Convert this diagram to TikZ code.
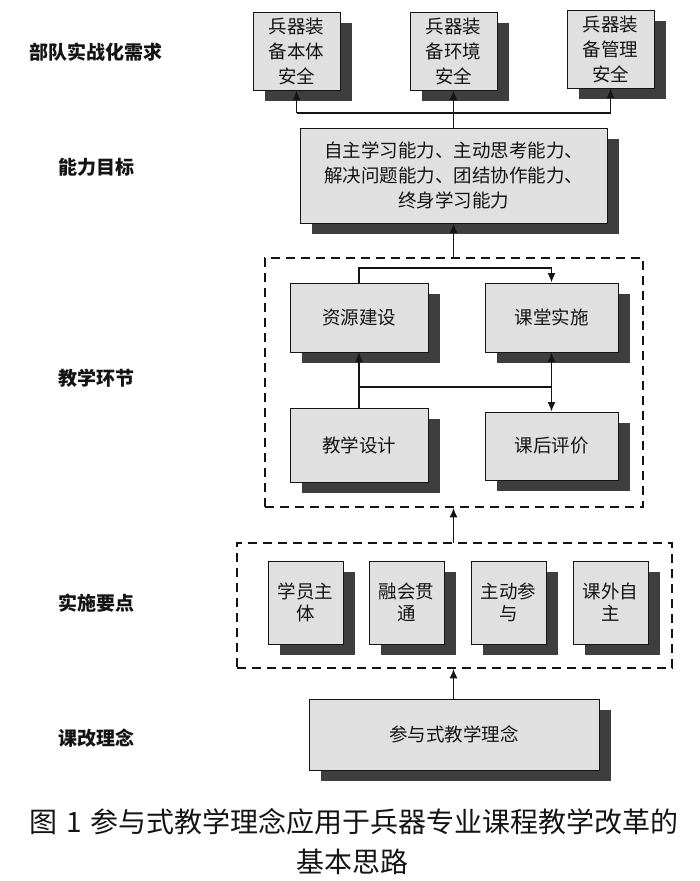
\documentclass[tikz,border=0pt]{standalone}
\usepackage{fontspec}
\newfontfamily\cjk{Noto Sans CJK SC}
\usetikzlibrary{arrows.meta,shadows}
\definecolor{boxfill}{RGB}{224,224,224}
\definecolor{shade}{RGB}{62,62,62}
\definecolor{ink}{RGB}{20,20,20}
\tikzset{
  box/.style={draw=ink, line width=1pt, fill=boxfill, inner sep=0pt, align=center,
    text=ink, font=\cjk\fontsize{18.5}{25}\selectfont,
    drop shadow={shadow xshift=12pt, shadow yshift=-11pt, fill=shade, opacity=1}},
  dbox/.style={draw=ink, line width=1.8pt, dash pattern=on 9pt off 6pt, inner sep=0pt},
  lbl/.style={font=\cjk\bfseries\fontsize{19}{22}\selectfont, text=ink},
  conn/.style={draw=ink, line width=1.3pt},
  arr/.style={conn, -{Latex[length=9.5pt,width=8pt]}},
  capt/.style={font=\cjk\fontsize{28}{30}\selectfont, text=ink},
}
\begin{document}
\begin{tikzpicture}[x=1pt,y=-1pt]
\useasboundingbox (0,0) rectangle (700,881);
% left labels
\node[lbl] (L1) at (96,52) {部队实战化需求};
\node[lbl] (L2) at (96,167) {能力目标};
\node[lbl] (L3) at (96,378) {教学环节};
\node[lbl] (L4) at (96,603) {实施要点};
\node[lbl] (L5) at (96,738) {课改理念};
% top boxes
\node[box, minimum width=87pt, minimum height=78pt] (b1) at (296.5,51) {兵器装\\备本体\\安全};
\node[box, minimum width=87pt, minimum height=78pt] (b2) at (453.5,51) {兵器装\\备环境\\安全};
\node[box, minimum width=87pt, minimum height=78pt] (b3) at (610.5,49) {兵器装\\备管理\\安全};
% ability box
\node[box, minimum width=307pt, minimum height=95pt] (ab) at (453.5,175.5)
  {自主学习能力、主动思考能力、\\解决问题能力、团结协作能力、\\终身学习能力};
\coordinate (j1) at (453.5,113);
\draw[arr] (ab.north) -- (b2.south);
\draw[conn] (j1 -| b1) -- (j1 -| b3);
\draw[arr] (j1 -| b1) -- (b1.south);
\draw[arr] (j1 -| b3) -- (b3.south);
% teaching stage dashed group
\node[dbox, minimum width=378pt, minimum height=249pt] (d1) at (454,382.5) {};
\node[box, minimum width=138pt, minimum height=69pt] (r1) at (359,317.5) {资源建设};
\node[box, minimum width=133pt, minimum height=69pt] (r2) at (551.5,317.5) {课堂实施};
\node[box, minimum width=138pt, minimum height=74pt] (r3) at (359,445) {教学设计};
\node[box, minimum width=133pt, minimum height=68pt] (r4) at (551.5,446) {课后评价};
\draw[arr] (ab.south |- d1.north) -- (ab.south);
\coordinate (t1) at (360,268);
\coordinate (m1) at (360,387);
\draw[arr] (r1.north) -- (r1.north |- t1) -- (t1 -| r2.north) -- (r2.north);
\draw[arr] (r3.north) -- (r1.south);
\draw[conn] (m1) -- (m1 -| r2.south);
\draw[arr] (m1 -| r2.south) -- (r2.south);
\draw[arr] (m1 -| r4.north) -- (r4.north);
% key points dashed group
\node[dbox, minimum width=435pt, minimum height=125pt] (d2) at (454.5,605.5) {};
\node[box, minimum width=75pt, minimum height=83pt, font=\cjk\fontsize{18.5}{22}\selectfont] (k1) at (305.5,602.5) {学员主\\体};
\node[box, minimum width=75pt, minimum height=83pt, font=\cjk\fontsize{18.5}{22}\selectfont] (k2) at (406.5,602.5) {融会贯\\通};
\node[box, minimum width=75pt, minimum height=83pt, font=\cjk\fontsize{18.5}{22}\selectfont] (k3) at (508.5,602.5) {主动参\\与};
\node[box, minimum width=75pt, minimum height=83pt, font=\cjk\fontsize{18.5}{22}\selectfont] (k4) at (610.5,602.5) {课外自\\主};
\draw[arr] (453.5,543) coordinate (c2) -- (c2 |- d1.south);
% concept box
\node[box, minimum width=290pt, minimum height=71pt] (cp) at (454,734.5) {参与式教学理念};
\draw[arr] (cp.north -| c2) -- (c2 |- d2.south);
% caption
\node[capt] (cap1) at (354,822) {图\hspace{9pt}1\hspace{9pt}参与式教学理念应用于兵器专业课程教学改革的};
\node[capt] (cap2) at (352,862) {基本思路};
\end{tikzpicture}
\end{document}
